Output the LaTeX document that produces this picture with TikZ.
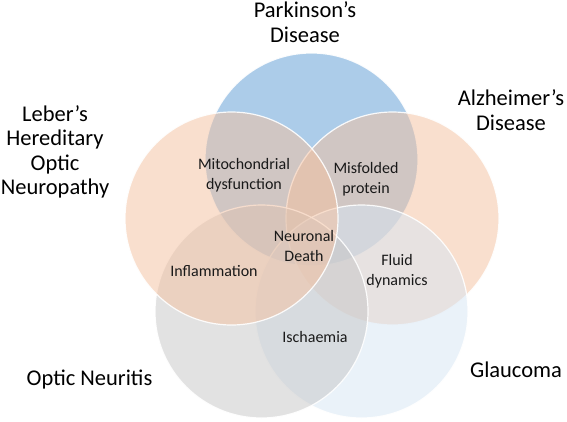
\documentclass[tikz,border=0pt]{standalone}
\usepackage{fontspec}
\setmainfont{Carlito}
\definecolor{pblue}{HTML}{5B9BD5}
\definecolor{peach}{HTML}{F5C19F}
\definecolor{ogray}{HTML}{C6C6C6}
\definecolor{gblue}{HTML}{D6E6F5}
\begin{document}
\begin{tikzpicture}[x=1pt,y=-1pt,
  venn/.style={draw=white,line width=1.2pt,fill opacity=0.5,draw opacity=0.9},
  outer/.style={font=\fontsize{22.5}{24.5}\selectfont,align=center,inner sep=0pt},
  inner/.style={font=\fontsize{16}{19.5}\selectfont,align=center,inner sep=0pt,text=black!90}]
\useasboundingbox (0,0) rectangle (567,421);
\fill[white] (0,0) rectangle (567,421);
\def\r{106.5}
\path[venn,fill=pblue] (311.5,159.5) circle[radius=\r];
\path[venn,fill=peach] (392.5,218.5) circle[radius=\r];
\path[venn,fill=gblue] (361.5,311.5) circle[radius=\r];
\path[venn,fill=ogray] (261.5,311.5) circle[radius=\r];
\path[venn,fill=peach] (231.5,218.5) circle[radius=\r];
\node[outer] (pd) at (305,22) {Parkinson’s\\Disease};
\node[outer] (ad) at (511,110) {Alzheimer’s\\Disease};
\node[outer] (lh) at (55,152) {Leber’s\\Hereditary\\Optic\\Neuropathy};
\node[outer] (on) at (89.5,380) {Optic Neuritis};
\node[outer] (gl) at (516,370) {Glaucoma};
\node[inner] (md) at (244,175) {Mitochondrial\\dysfunction};
\node[inner] (mp) at (366,179) {Misfolded\\protein};
\node[inner] (nd) at (304,246) {Neuronal\\Death};
\node[inner] (inf) at (214,271) {Inflammation};
\node[inner] (fd) at (397,271) {Fluid\\dynamics};
\node[inner] (is) at (315,337) {Ischaemia};
\end{tikzpicture}
\end{document}
